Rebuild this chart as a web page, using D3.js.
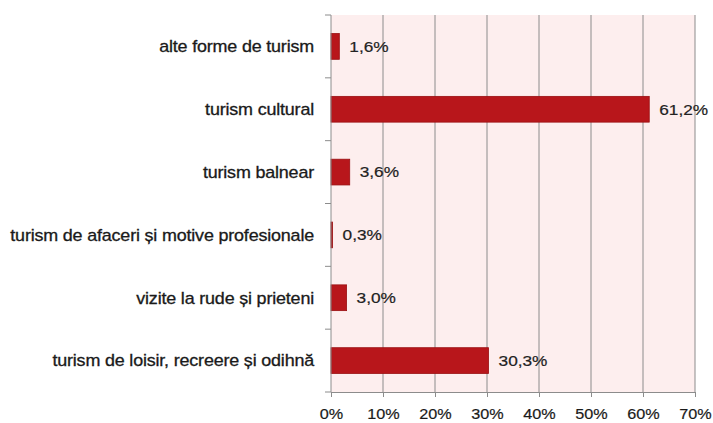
<!DOCTYPE html>
<html>
<head>
<meta charset="utf-8">
<script src="https://cdn.jsdelivr.net/npm/d3@7"></script>
<style>
  body { margin: 0; background: #fff; }
  svg text { font-family: "Liberation Sans", Arial, sans-serif; }
</style>
</head>
<body>
<script>
// data
const categories = [
  "alte forme de turism",
  "turism cultural",
  "turism balnear",
  "turism de afaceri și motive profesionale",
  "vizite la rude și prieteni",
  "turism de loisir, recreere și odihnă"
];
const values = [1.6, 61.2, 3.6, 0.3, 3.0, 30.3];
const valueLabels = ["1,6%", "61,2%", "3,6%", "0,3%", "3,0%", "30,3%"];
const ticks = [0, 10, 20, 30, 40, 50, 60, 70];

const width = 713, height = 423;
const margin = {top: 15, right: 18, bottom: 31, left: 331};
// the original picture is a little stretched sideways
const stretch = 1.15;

const svg = d3.select("body").append("svg")
  .attr("width", width)
  .attr("height", height);

const x = d3.scaleLinear().domain([0, 70]).range([margin.left, width - margin.right]);
const y = d3.scaleBand().domain(categories)
  .range([margin.top, height - margin.bottom])
  .paddingInner(0.59).paddingOuter(0.295);

const bandEdges = d3.range(categories.length + 1)
  .map(i => margin.top + i * (height - margin.bottom - margin.top) / categories.length);

// plot background
svg.append("rect")
  .attr("x", x(0)).attr("y", margin.top)
  .attr("width", x(70) - x(0))
  .attr("height", height - margin.bottom - margin.top)
  .attr("fill", "#fdeeee");

// vertical gridlines
svg.append("g").selectAll("line")
  .data(ticks.slice(1))
  .join("line")
  .attr("x1", d => x(d)).attr("x2", d => x(d))
  .attr("y1", margin.top).attr("y2", height - margin.bottom)
  .attr("stroke", "#8c8c8c").attr("stroke-width", 1);

// bars
svg.append("g").selectAll("rect")
  .data(values)
  .join("rect")
  .attr("x", x(0))
  .attr("y", (d, i) => y(categories[i]))
  .attr("width", d => x(d) - x(0))
  .attr("height", y.bandwidth())
  .attr("fill", "#b8161b")
  .attr("stroke", "#9a0f12")
  .attr("stroke-width", 0.8);

// value labels
svg.append("g").selectAll("text")
  .data(values)
  .join("text")
  .attr("transform", (d, i) =>
    `translate(${x(d) + 10},${y(categories[i]) + y.bandwidth() / 2}) scale(${stretch},1)`)
  .attr("dy", "0.36em")
  .attr("font-size", 15)
  .attr("fill", "#222")
  .attr("stroke", "#222")
  .attr("stroke-width", 0.2)
  .text((d, i) => valueLabels[i]);

// y axis
const gy = svg.append("g");
gy.append("line")
  .attr("x1", x(0)).attr("x2", x(0))
  .attr("y1", margin.top).attr("y2", height - margin.bottom)
  .attr("stroke", "#8c8c8c");
gy.selectAll("line.tick")
  .data(bandEdges)
  .join("line").attr("class", "tick")
  .attr("x1", x(0) - 6).attr("x2", x(0))
  .attr("y1", d => d).attr("y2", d => d)
  .attr("stroke", "#8c8c8c");
gy.selectAll("text")
  .data(categories)
  .join("text")
  .attr("transform", d =>
    `translate(${x(0) - 17},${y(d) + y.bandwidth() / 2}) scale(1.12,1)`)
  .attr("dy", "0.36em")
  .attr("text-anchor", "end")
  .attr("font-size", 16)
  .attr("fill", "#1a1a1a")
  .attr("stroke", "#1a1a1a")
  .attr("stroke-width", 0.3)
  .attr("letter-spacing", -0.15)
  .text(d => d);

// x axis
const xAxis = d3.axisBottom(x)
  .tickValues(ticks)
  .tickFormat(d => d + "%")
  .tickSize(5)
  .tickPadding(11);
const gx = svg.append("g")
  .attr("transform", `translate(0,${height - margin.bottom})`)
  .call(xAxis);
gx.select(".domain").attr("stroke", "#8c8c8c");
gx.selectAll(".tick line").attr("stroke", "#8c8c8c");
gx.selectAll(".tick text")
  .attr("transform", "scale(1.08,1)")
  .attr("font-size", 15)
  .attr("fill", "#1a1a1a")
  .attr("stroke", "#1a1a1a")
  .attr("stroke-width", 0.2)
  .attr("font-family", "Liberation Sans, Arial, sans-serif");
</script>
</body>
</html>
